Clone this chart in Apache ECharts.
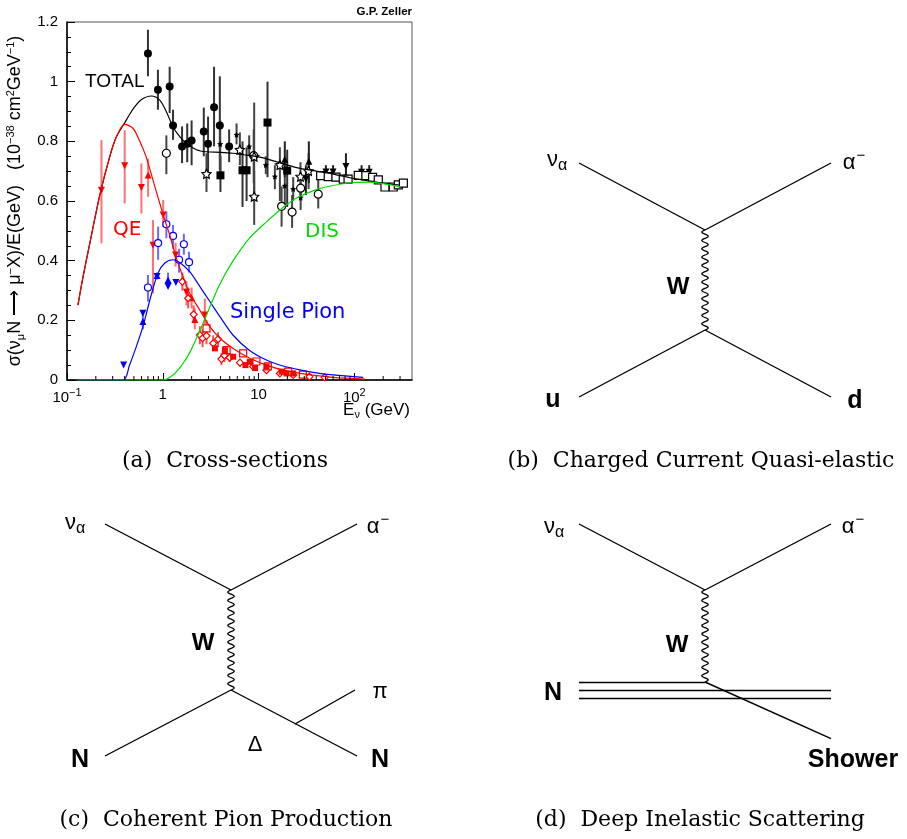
<!DOCTYPE html>
<html><head><meta charset="utf-8">
<script src="https://cdn.jsdelivr.net/npm/echarts@6.0.0/dist/echarts.min.js"></script>
<style>html,body{margin:0;padding:0;background:#fff}#c{width:907px;height:839px}</style>
</head><body><div id="c"></div>
<script>
// ---------- Cross-section curves: [E (GeV), sigma/E] ----------
const totalCurve = [[0.13,0.251],[0.147,0.346],[0.173,0.458],[0.22,0.62],[0.279,0.748],[0.328,0.815],[0.40,0.862],[0.45,0.89],[0.5,0.912],[0.6,0.94],[0.76,0.952],[0.93,0.938],[1.09,0.899],[1.28,0.848],[1.51,0.815],[1.77,0.793],[2.25,0.772],[2.86,0.765],[4,0.763],[5.4,0.76],[7,0.755],[10,0.748],[15,0.733],[25,0.712],[40,0.70],[60,0.69],[90,0.678],[135,0.668],[200,0.66],[300,0.653]];
const qeCurve = [[0.13,0.251],[0.147,0.346],[0.173,0.458],[0.22,0.62],[0.279,0.748],[0.328,0.815],[0.40,0.857],[0.49,0.843],[0.575,0.80],[0.67,0.748],[0.79,0.67],[1.0,0.558],[1.18,0.486],[1.39,0.407],[1.63,0.346],[1.91,0.29],[2.44,0.234],[3.1,0.179],[3.95,0.14],[5.43,0.106],[8.1,0.073],[12.1,0.05],[18.1,0.033],[27,0.022],[60,0.009],[129,0.003]];
const pionCurve = [[0.13,0],[0.385,0],[0.45,0.05],[0.52,0.105],[0.62,0.179],[0.75,0.28],[0.89,0.358],[1.05,0.392],[1.28,0.403],[1.5,0.394],[1.91,0.363],[2.44,0.313],[3.1,0.263],[4.0,0.21],[5.43,0.15],[8,0.10],[12.1,0.067],[18,0.047],[27,0.034],[40,0.024],[60,0.017],[124,0.009]];
const disCurve = [[0.13,0],[1.0,0],[1.2,0.01],[1.5,0.04],[1.9,0.09],[2.44,0.165],[3.1,0.245],[4.0,0.325],[5.43,0.40],[8,0.475],[12.1,0.53],[18,0.578],[25,0.61],[40,0.638],[60,0.652],[100,0.662],[146,0.663],[200,0.658],[300,0.648]];

// ---------- Measurements: [E, value, errLow, errHigh] ----------
const blackCircles = [[0.70,1.094,1.018,1.174],[0.89,0.973,0.906,1.04],[1.18,0.984,0.895,1.05],[1.28,0.853,0.805,0.906],[1.59,0.783,0.727,0.85],[1.80,0.792,0.73,0.86],[2.0,0.803,0.72,0.87],[2.68,0.833,0.75,0.913],[2.97,0.792,0.693,0.883],[3.43,0.914,0.783,1.05],[3.94,0.853,0.705,1.018],[4.93,0.783,0.73,0.84]];
const blackSquares = [[4.0,0.686,0.63,0.75],[6.8,0.703,0.58,0.80],[7.5,0.703,0.60,0.78],[12.4,0.863,0.68,1.0],[19.9,0.702,0.58,0.772]];
const blackOpenCircles = [[1.09,0.76,0.69,0.82],[17.4,0.582,0.514,0.649],[22.4,0.563,0.51,0.62],[42,0.623,0.575,0.675],[27.5,0.643,0.60,0.69],[8.9,0.752,0.66,0.84]];
const blackOpenStars = [[6.38,0.772,0.72,0.83],[9.0,0.749,0.60,0.93],[2.86,0.691,0.63,0.76],[9.0,0.615,0.52,0.70],[16.7,0.721,0.60,0.78],[27.4,0.682,0.62,0.73],[33.3,0.701,0.64,0.76]];
const blackStars = [[5.89,0.822,0.79,0.86],[7.98,0.783,0.75,0.82],[3.98,0.791,0.70,0.87],[11.9,0.721,0.69,0.75],[14.8,0.682,0.64,0.72],[18.8,0.651,0.58,0.70],[23,0.64,0.60,0.68],[27.5,0.612,0.57,0.65]];
const blackDownTri = [[31.2,0.674,0.62,0.72],[50.5,0.697,0.67,0.72],[60,0.697,0.67,0.72],[81.7,0.716,0.67,0.76],[119,0.696,0.67,0.72],[143,0.696,0.67,0.72]];
const blackUpTri = [[18.8,0.74,0.68,0.80],[33.5,0.733,0.66,0.80]];
const blackOpenSquares = [[44.5,0.685],[53.4,0.682],[64.3,0.68],[76.6,0.673],[86.0,0.673],[110,0.686],[132,0.685],[155,0.679],[178,0.671],[209,0.647],[255,0.647],[288,0.654],[325,0.66]];

const redDownTri = [[0.229,0.636,0.458,0.804],[0.40,0.718,0.592,0.837],[0.598,0.645,0.558,0.726],[0.79,0.452,0.29,0.536],[1.01,0.553,0.513,0.603],[1.36,0.419,0.38,0.46],[1.77,0.294,0.25,0.33],[2.75,0.218,0.156,0.273]];
const redUpTri = [[0.703,0.687,0.614,0.742],[2.0,0.276,0.24,0.31],[2.16,0.203,0.17,0.24]];
const redOpenDiamonds = [[1.6,0.33,0.30,0.36],[1.84,0.274,0.24,0.31],[2.1,0.22,0.19,0.25],[2.44,0.151,0.12,0.18],[2.6,0.14,0.11,0.17],[2.86,0.148,0.12,0.18],[3.36,0.123,0.10,0.15],[3.78,0.137,0.11,0.16],[4.1,0.07,0.05,0.09],[4.4,0.082,0.06,0.10],[5.0,0.075,0.06,0.09],[6.4,0.058,0.045,0.07],[8.8,0.045],[12.1,0.033],[16.7,0.022],[23,0.017],[34,0.011],[49,0.009]];
const redOpenSquares = [[2.86,0.173,0.15,0.2],[4.64,0.10],[6.9,0.089],[9.5,0.062],[12.5,0.046],[20.4,0.028],[29,0.018]];
const redSquares = [[3.5,0.106],[4.45,0.10],[5.43,0.078],[7.3,0.05],[8.1,0.061],[9.2,0.04],[12.1,0.045],[17.4,0.028],[19.6,0.022],[23,0.022]];

const blueOpenCircles = [[0.70,0.31,0.263,0.352],[0.894,0.459,0.403,0.514],[1.09,0.522,0.475,0.565],[1.28,0.483,0.44,0.52],[1.48,0.403,0.36,0.44],[1.66,0.455,0.42,0.49],[1.88,0.395,0.36,0.43]];
const blueDownTri = [[0.39,0.05],[0.62,0.224,0.20,0.25],[0.87,0.347,0.30,0.39],[1.135,0.313,0.29,0.34],[1.37,0.327,0.28,0.40]];
const blueUpTri = [[0.62,0.196,0.17,0.22],[0.87,0.35],[1.135,0.335,0.31,0.36]];

// ---------- Axis ticks / labels ----------
const xTickLabels = {0.1:'10{sup|−1}', 1:'1', 10:'10', 100:'10{sup|2}'};
const xMinorTicks = [0.2,0.3,0.4,0.5,0.6,0.7,0.8,0.9,2,3,4,5,6,7,8,9,20,30,40,50,60,70,80,90,200,300];

// ---------- Feynman diagrams (units: W-propagator length) ----------
const diagBLines = [[[-1.26,1.67],[0,1]],[[0,1],[1.26,1.67]],[[-1.26,-0.67],[0,0]],[[0,0],[1.26,-0.67]]];
const diagBW = [[0,0,1]];
const diagBLabels = [['{g|ν}{gs|α}',-1.48,1.70],['{g|α}{gp|−}',1.49,1.67],['{b|W}',-0.27,0.43],['{bb|u}',-1.52,-0.70],['{bb|d}',1.50,-0.71]];

const diagCLines = [[[-1.26,1.66],[0,1]],[[0,1],[1.26,1.66]],[[-1.26,-0.66],[0,0]],[[0,0],[1.26,-0.66]],[[0.64,-0.34],[1.24,0.0]]];
const diagCW = [[0,0,1]];
const diagCLabels = [['{g|ν}{gs|α}',-1.56,1.67],['{g|α}{gp|−}',1.47,1.63],['{b|W}',-0.28,0.47],['{g|π}',1.49,-0.02],['{g|Δ}',0.24,-0.55],['{bb|N}',-1.51,-0.70],['{bb|N}',1.49,-0.70]];

const diagDLines = [[[-1.26,1.58],[0,0.92]],[[0,0.92],[1.26,1.58]],[[-1.26,0],[0,0]],[[-1.26,-0.083],[1.26,-0.083]],[[-1.26,-0.166],[1.26,-0.166]],[[0,0],[1.26,-0.566]]];
const diagDW = [[0,0,0.92]];
const diagDLabels = [['{g|ν}{gs|α}',-1.51,1.55],['{g|α}{gp|−}',1.48,1.55],['{b|W}',-0.28,0.37],['{bb|N}',-1.52,-0.11],['{bb|Shower}',1.48,-0.78]];

const captions = ['(a)  Cross-sections','(b)  Charged Current Quasi-elastic','(c)  Coherent Pion Production','(d)  Deep Inelastic Scattering'];

// ---------- rendering ----------
const SANS = '"Liberation Sans", Arial, Helvetica, sans-serif';
const STAR = 'path://M0,-10L2.94,-4.05L9.51,-3.09L4.76,1.55L5.88,8.09L0,5L-5.88,8.09L-4.76,1.55L-9.51,-3.09L-2.94,-4.05Z';

function errBar(params, api){
  const lo = api.value(2), hi = api.value(3);
  if (lo === undefined || hi === undefined || isNaN(lo) || isNaN(hi)) return null;
  const a = api.coord([api.value(0), lo]), b = api.coord([api.value(0), hi]);
  return {type:'line', shape:{x1:a[0],y1:a[1],x2:b[0],y2:b[1]}, style:{stroke:api.visual('color'), lineWidth:2}};
}
function minorTick(params, api){
  const p = api.coord([api.value(0), 0]);
  return {type:'line', shape:{x1:p[0], y1:p[1], x2:p[0], y2:p[1]-4}, style:{stroke:'#000', lineWidth:1}};
}
function pointSeries(data, o){
  return [{
    type:'custom', renderItem:errBar, data:data, encode:{x:0, y:[2,3]}, clip:true,
    itemStyle:{color:o.bar}, z:2, silent:true
  },{
    type:'scatter', data:data, symbol:o.symbol, symbolSize:o.size, symbolRotate:o.rot||0,
    itemStyle: o.open ? {color:'#fff', borderColor:o.color, borderWidth:1.2, opacity:1} : {color:o.color, opacity:1},
    z:3, silent:true
  }];
}
function curve(data, color){
  return {type:'line', data:data, showSymbol:false, smooth:0.3, clip:true,
    lineStyle:{color:color, width:1.2}, z:4, silent:true};
}
function wiggle(params, api){
  const a = api.coord([api.value(0), api.value(1)]);
  const b = api.coord([api.value(0), api.value(2)]);
  const len = Math.abs(b[1]-a[1]);
  const cycles = Math.round(len/8.4);
  const N = cycles*16, pts = [];
  for (let i=0;i<=N;i++){
    const t = i/N;
    pts.push([a[0] + 3.2*Math.sin(2*Math.PI*cycles*t), a[1] + (b[1]-a[1])*t]);
  }
  return {type:'polyline', shape:{points:pts}, style:{stroke:'#000', lineWidth:1.3, fill:null}};
}
const diagRich = {
  g:{fontFamily:SANS, fontSize:22, color:'#000'},
  gs:{fontFamily:SANS, fontSize:16, color:'#000', padding:[12,0,0,0]},
  gp:{fontFamily:SANS, fontSize:15, color:'#000', padding:[0,0,14,1]},
  b:{fontFamily:SANS, fontSize:24, fontWeight:'bold', color:'#000'},
  bb:{fontFamily:SANS, fontSize:25, fontWeight:'bold', color:'#000'}
};
function diagram(idx, lines, w, labels){
  return [{
    type:'lines', coordinateSystem:'cartesian2d', xAxisIndex:idx, yAxisIndex:idx, polyline:false,
    data: lines.map(c => ({coords:c})), lineStyle:{color:'#000', width:1.4, opacity:1, curveness:0},
    effect:{show:false}, silent:true
  },{
    type:'custom', xAxisIndex:idx, yAxisIndex:idx, renderItem:wiggle, data:w, encode:{x:0, y:[1,2]}, silent:true
  },{
    type:'scatter', xAxisIndex:idx, yAxisIndex:idx, symbolSize:0, silent:true, clip:false,
    itemStyle:{opacity:1, color:'#000'},
    data: labels.map(l => ({value:[l[1], l[2]], txt:l[0]})),
    label:{show:true, position:'inside', color:'#000', opacity:1, textBorderWidth:0, textShadowBlur:0,
      formatter: p => p.data.txt, rich:diagRich}
  }];
}
function hiddenAxes(idx){
  return {
    x:{type:'value', gridIndex:idx, min:-1.7, max:1.7, show:false},
    y:{type:'value', gridIndex:idx, min:-1, max:2, show:false}
  };
}
const axB = hiddenAxes(1), axC = hiddenAxes(2), axD = hiddenAxes(3);

const chart = echarts.init(document.getElementById('c'), null, {renderer:'canvas'});
const option = {
  animation:false,
  backgroundColor:'#fff',
  grid:[
    {left:67, top:22, width:345, height:358, show:true, borderColor:'#555', borderWidth:1, backgroundColor:'transparent'},
    {left:535, top:130, width:340, height:300},
    {left:61, top:490, width:340, height:300},
    {left:535, top:482, width:340, height:300}
  ],
  xAxis:[
    {type:'log', gridIndex:0, logBase:10, min:0.1, max:400,
     axisLine:{show:true, onZero:false, lineStyle:{color:'#000', width:1.5}},
     axisTick:{show:true, inside:true, length:7, lineStyle:{color:'#000', width:1}},
     minorTick:{show:false},
     splitLine:{show:false}, minorSplitLine:{show:false},
     axisLabel:{margin:7, color:'#000', fontFamily:SANS, fontSize:15, showMaxLabel:false,
       formatter: v => { const k = Math.round(Math.log10(v)*1000)/1000; const key = Math.pow(10,k); return xTickLabels[+key.toPrecision(3)] || ''; },
       rich:{sup:{fontFamily:SANS, fontSize:11, color:'#000', padding:[0,0,10,0]}}}
    },
    axB.x, axC.x, axD.x
  ],
  yAxis:[
    {type:'value', gridIndex:0, min:0, max:1.2, interval:0.2,
     axisLine:{show:true, onZero:false, lineStyle:{color:'#000', width:1.5}},
     axisTick:{show:true, inside:true, length:8, lineStyle:{color:'#000', width:1}},
     minorTick:{show:true, splitNumber:4, length:4, lineStyle:{color:'#000', width:1}},
     splitLine:{show:false}, minorSplitLine:{show:false},
     axisLabel:{margin:9, color:'#000', fontFamily:SANS, fontSize:15},
     name:'σ(ν{sub|μ}N ⟶ μ{sup|−}X)/E(GeV)   (10{sup|−38} cm{sup|2}GeV{sup|−1})',
     nameLocation:'middle', nameGap:41, nameRotate:90,
     nameTextStyle:{fontFamily:SANS, fontSize:18, color:'#000',
       rich:{sub:{fontFamily:SANS, fontSize:11, color:'#000', padding:[10,0,0,0]},
             sup:{fontFamily:SANS, fontSize:11, color:'#000', padding:[0,0,10,0]}}}
    },
    axB.y, axC.y, axD.y
  ],
  graphic:[
    {type:'text', x:412, y:12, style:{text:'G.P. Zeller', font:'bold 11.5px '+SANS, fill:'#000', align:'right', verticalAlign:'middle'}},
    {type:'text', x:85, y:82, style:{text:'TOTAL', font:'19px '+SANS, fill:'#000', align:'left', verticalAlign:'middle'}},
    {type:'text', x:113, y:230, style:{text:'QE', font:'20px "DejaVu Sans", sans-serif', fill:'#ff0000', align:'left', verticalAlign:'middle'}},
    {type:'text', x:305, y:232, style:{text:'DIS', font:'20px "DejaVu Sans", sans-serif', fill:'#00dd00', align:'left', verticalAlign:'middle'}},
    {type:'text', x:230, y:313, style:{text:'Single Pion', font:'21px "DejaVu Sans", sans-serif', fill:'#0000ff', align:'left', verticalAlign:'middle'}},
    {type:'text', x:410, y:410, style:{text:'E{s|ν} (GeV)', font:'17px '+SANS, fill:'#000', align:'right', verticalAlign:'middle',
      rich:{s:{fontFamily:SANS, fontSize:11, fill:'#000', padding:[9,0,0,0]}}}},
    {type:'text', x:225, y:461, style:{text:captions[0], font:'22px "DejaVu Serif", serif', fill:'#000', align:'center', verticalAlign:'middle'}},
    {type:'text', x:701, y:461, style:{text:captions[1], font:'22px "DejaVu Serif", serif', fill:'#000', align:'center', verticalAlign:'middle'}},
    {type:'text', x:226, y:820, style:{text:captions[2], font:'22px "DejaVu Serif", serif', fill:'#000', align:'center', verticalAlign:'middle'}},
    {type:'text', x:700, y:820, style:{text:captions[3], font:'22px "DejaVu Serif", serif', fill:'#000', align:'center', verticalAlign:'middle'}}
  ],
  series:[].concat(
    [{type:'custom', renderItem:minorTick, data:xMinorTicks.map(v => [v, 0]), encode:{x:0, y:1}, silent:true, z:5}],
    pointSeries(blackCircles, {symbol:'circle', size:8, color:'#000', bar:'#333'}),
    pointSeries(blackSquares, {symbol:'rect', size:8, color:'#000', bar:'#333'}),
    pointSeries(blackOpenCircles, {symbol:'circle', size:8, color:'#000', open:true, bar:'#444'}),
    pointSeries(blackOpenStars, {symbol:STAR, size:9, color:'#000', open:true, bar:'#444'}),
    pointSeries(blackStars, {symbol:STAR, size:6, color:'#000', bar:'#444'}),
    pointSeries(blackDownTri, {symbol:'triangle', size:7, rot:180, color:'#000', bar:'#222'}),
    pointSeries(blackUpTri, {symbol:'triangle', size:7, color:'#000', bar:'#222'}),
    pointSeries(blackOpenSquares, {symbol:'rect', size:8, color:'#000', open:true, bar:'#444'}),
    pointSeries(redDownTri, {symbol:'triangle', size:7, rot:180, color:'#ff0000', bar:'#ff7070'}),
    pointSeries(redUpTri, {symbol:'triangle', size:7, color:'#ff0000', bar:'#ff7070'}),
    pointSeries(redOpenDiamonds, {symbol:'diamond', size:7, color:'#ff0000', open:true, bar:'#ff5050'}),
    pointSeries(redOpenSquares, {symbol:'rect', size:7, color:'#ff0000', open:true, bar:'#ff5050'}),
    pointSeries(redSquares, {symbol:'rect', size:6, color:'#ff0000', bar:'#ff5050'}),
    pointSeries(blueOpenCircles, {symbol:'circle', size:7, color:'#0000ff', open:true, bar:'#6a6aff'}),
    pointSeries(blueDownTri, {symbol:'triangle', size:7, rot:180, color:'#0000ff', bar:'#6a6aff'}),
    pointSeries(blueUpTri, {symbol:'triangle', size:7, color:'#0000ff', bar:'#6a6aff'}),
    [curve(totalCurve,'#000000'), curve(qeCurve,'#ff0000'), curve(pionCurve,'#0000ff'), curve(disCurve,'#00dd00')],
    diagram(1, diagBLines, diagBW, diagBLabels),
    diagram(2, diagCLines, diagCW, diagCLabels),
    diagram(3, diagDLines, diagDW, diagDLabels)
  )
};
chart.setOption(option);
</script></body></html>
